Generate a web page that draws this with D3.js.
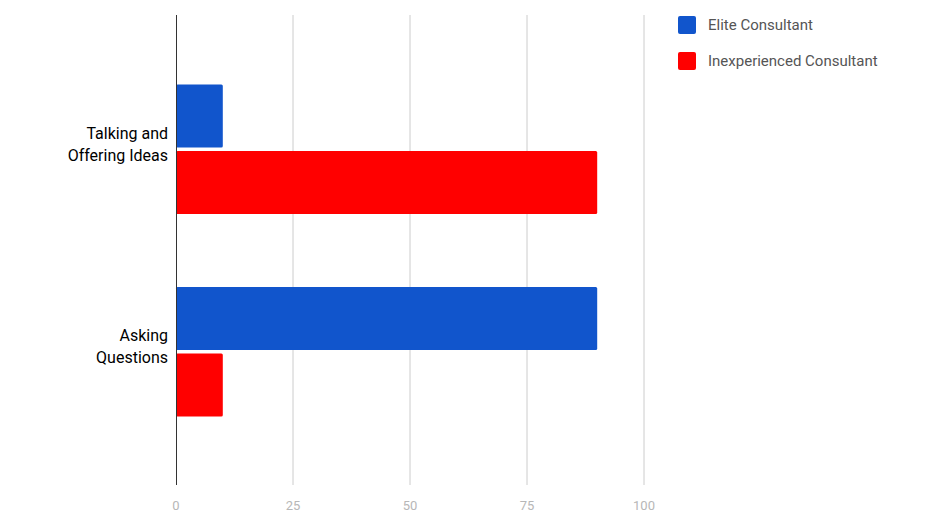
<!DOCTYPE html>
<html><head><meta charset="utf-8">
<script src="https://cdn.jsdelivr.net/npm/d3@7"></script>
<style>body{margin:0;background:#fff}</style>
</head><body>
<svg id="chart" width="932" height="530"></svg>
<script>
// data
const categories = ["Talking and\nOffering Ideas", "Asking\nQuestions"];
const seriesNames = ["Elite Consultant", "Inexperienced Consultant"];
const eliteValues = [10, 90];
const inexperiencedValues = [90, 10];
const xTicks = [0, 25, 50, 75, 100];
const colors = ["#1155cc", "#ff0000"];

const svg = d3.select("#chart");
const font = "Roboto, sans-serif";

const x = d3.scaleLinear().domain([0, 100]).range([176, 644]);
const y = d3.scaleBand().domain(categories).range([48, 453])
  .paddingInner(0.36).paddingOuter(0.18);
const sub = d3.scaleBand().domain(seriesNames).range([0, y.bandwidth()]).paddingInner(0.05);

// gridlines
svg.append("g").selectAll("line").data(xTicks.slice(1)).join("line")
  .attr("x1", (d) => x(d)).attr("x2", (d) => x(d))
  .attr("y1", 15).attr("y2", 485)
  .attr("stroke", "#cccccc").attr("stroke-width", 1);

// tick labels
svg.append("g").selectAll("text").data(xTicks).join("text")
  .attr("x", (d) => x(d)).attr("y", 510)
  .attr("text-anchor", "middle").attr("font-family", font)
  .attr("font-size", 13).attr("fill", "#b7b7b7").text((d) => d);

// bars
const rows = categories.map((c, i) => ({ c, vals: [eliteValues[i], inexperiencedValues[i]] }));
const g = svg.append("g").selectAll("g").data(rows).join("g")
  .attr("transform", (d) => `translate(0,${y(d.c)})`);
g.selectAll("rect").data((d) => d.vals.map((v, j) => ({ v, s: seriesNames[j], j })))
  .join("rect")
  .attr("x", x(0)).attr("y", (d) => sub(d.s))
  .attr("width", (d) => x(d.v) - x(0)).attr("height", sub.bandwidth())
  .attr("rx", 1.5).attr("fill", (d) => colors[d.j]);

// axis line
svg.append("line").attr("x1", 176.5).attr("x2", 176.5).attr("y1", 15).attr("y2", 485)
  .attr("stroke", "#333").attr("stroke-width", 1);

// category labels
svg.append("g").selectAll("text").data(categories).join("text")
  .attr("text-anchor", "end").attr("font-family", font).attr("font-size", 16).attr("fill", "#000")
  .each(function (d) {
    const lines = d.split("\n");
    const cy = y(d) + y.bandwidth() / 2;
    d3.select(this).selectAll("tspan").data(lines).join("tspan")
      .attr("x", 168).attr("y", (l, i) => cy - 5 + (i - (lines.length - 1) / 2) * 22)
      .attr("dy", "0.35em").text((l) => l);
  });

// legend
const lg = svg.append("g").selectAll("g").data(seriesNames).join("g")
  .attr("transform", (d, i) => `translate(678,${16 + i * 36})`);
lg.append("rect").attr("width", 18).attr("height", 18).attr("rx", 2)
  .attr("fill", (d, i) => colors[i]);
lg.append("text").attr("x", 30).attr("y", 9).attr("dy", "0.35em")
  .attr("font-family", font).attr("font-size", 15).attr("fill", "#555").text((d) => d);
</script>
</body></html>
